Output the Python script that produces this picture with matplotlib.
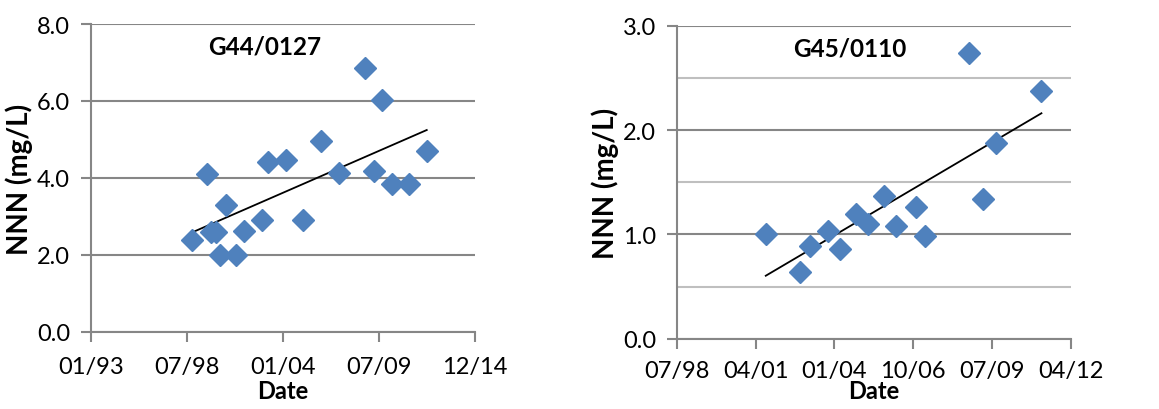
import numpy as np
import pandas as pd
import matplotlib
matplotlib.use('Agg')
import matplotlib.pyplot as plt
import matplotlib.dates as mdates
from matplotlib.ticker import MultipleLocator, FormatStrFormatter

plt.rcParams['font.family'] = ['Lato', 'DejaVu Sans']

# Podaci - G44/0127
datumi_g44 = ['1998-11-05', '1999-09-05', '1999-11-20', '2000-03-08', '2000-06-03',
              '2000-10-01', '2001-04-25', '2001-10-15', '2002-10-26', '2003-03-07',
              '2004-03-10', '2005-03-05', '2006-03-08', '2007-03-12', '2008-09-16',
              '2009-03-10', '2009-09-06', '2010-03-20', '2011-03-22', '2012-03-17']
nnn_g44 = [2.40, 4.10, 2.59, 2.59, 1.99, 3.30, 1.99, 2.61, 2.92, 4.42,
           4.46, 2.90, 4.96, 4.14, 6.85, 4.19, 6.03, 3.84, 3.84, 4.69]

# Podaci - G45/0110
datumi_g45 = ['2001-08-26', '2002-11-01', '2003-03-08', '2003-10-22', '2004-03-22',
              '2004-10-11', '2005-03-13', '2005-10-01', '2006-03-07', '2006-11-16',
              '2007-03-14', '2008-09-14', '2009-03-10', '2009-08-31', '2011-03-25']
nnn_g45 = [1.00, 0.64, 0.89, 1.03, 0.86, 1.20, 1.10, 1.37, 1.08, 1.26,
           0.985, 2.74, 1.34, 1.88, 2.37]

# x osa
pocetak_g44 = '1993-01-25'
oznake_g44 = ['01/93', '07/98', '01/04', '07/09', '12/14']
korak_g44 = 2000  # dana

pocetak_g45 = '1998-07-25'
oznake_g45 = ['07/98', '04/01', '01/04', '10/06', '07/09', '04/12']
korak_g45 = 1000  # dana

plava = '#4F81BD'
siva = '#868686'
svetlo_siva = '#BFBFBF'

fig = plt.figure(figsize=(11.59, 4.10), dpi=100)
ax1 = fig.add_axes([0.0785, 0.188, 0.3315, 0.751])
ax2 = fig.add_axes([0.584, 0.171, 0.340, 0.764])


def nacrtaj(ax, datumi, vrednosti, pocetak, oznake, korak, ymax, naslov, naslov_x,
            mala_mreza, razmak_tik, razmak_date):
    x = mdates.date2num(pd.to_datetime(datumi))
    x0 = mdates.date2num(pd.Timestamp(pocetak))
    tikovi = [x0 + i * korak for i in range(len(oznake))]

    # linearni trend
    k, n = np.polyfit(x, vrednosti, 1)
    xt = np.array([x.min(), x.max()])
    ax.plot(xt, k * xt + n, color='black', lw=1.3, zorder=3)
    ax.plot(x, vrednosti, ls='none', marker='D', ms=11, color=plava, mec=plava, zorder=4)

    ax.set_xlim(tikovi[0], tikovi[-1])
    ax.set_xticks(tikovi)
    ax.set_xticklabels(oznake)
    ax.set_ylim(0, ymax)
    ax.yaxis.set_major_locator(MultipleLocator(2.0 if ymax > 4 else 1.0))
    ax.yaxis.set_major_formatter(FormatStrFormatter('%.1f'))

    ax.grid(axis='y', which='major', color=siva, lw=1.5, zorder=0)
    if mala_mreza:
        ax.yaxis.set_minor_locator(MultipleLocator(0.5))
        ax.grid(axis='y', which='minor', color=svetlo_siva, lw=1.5, zorder=0)
        ax.tick_params(axis='y', which='minor', length=0)
    ax.set_axisbelow(True)

    for s in ['top', 'right']:
        ax.spines[s].set_visible(False)
    for s in ['left', 'bottom']:
        ax.spines[s].set_color(siva)
        ax.spines[s].set_linewidth(1.5)
    ax.tick_params(axis='both', which='major', length=7, width=1.5, color=siva,
                   labelsize=17)
    ax.tick_params(axis='x', pad=razmak_tik)
    ax.tick_params(axis='y', pad=8)

    ax.set_xlabel('Date', fontsize=17, fontweight='bold', labelpad=razmak_date)
    ax.set_ylabel('NNN (mg/L)', fontsize=20, fontweight='bold', labelpad=3)
    ax.text(naslov_x, 0.93, naslov, transform=ax.transAxes, ha='center', va='center',
            fontsize=17.5, fontweight='bold')


nacrtaj(ax1, datumi_g44, nnn_g44, pocetak_g44, oznake_g44, korak_g44, 8.0, 'G44/0127', 0.453, False, 10, 2)
nacrtaj(ax2, datumi_g45, nnn_g45, pocetak_g45, oznake_g45, korak_g45, 3.0, 'G45/0110', 0.44, True, 8, -1)

fig.savefig('out.png', dpi=100)
